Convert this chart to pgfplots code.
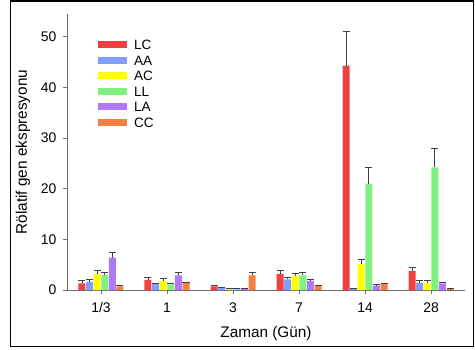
\documentclass[border=0pt]{standalone}
\usepackage{pgfplots}
\pgfplotsset{compat=1.18}
\usepackage{pgfplotstable}
\usepackage{fontspec}
\setmainfont{Liberation Sans}
\definecolor{cLC}{RGB}{240,64,64}
\definecolor{cAA}{RGB}{128,158,250}
\definecolor{cAC}{RGB}{255,255,0}
\definecolor{cLL}{RGB}{128,240,128}
\definecolor{cLA}{RGB}{178,120,245}
\definecolor{cCC}{RGB}{242,128,64}
\definecolor{axgray}{RGB}{110,110,110}
% x value err(plus)
\pgfplotstableread{
x y e
0 1.3 0.5
1 2.0 0.5
2 0.7 0.2
3 3.2 0.7
4 44.3 6.7
5 3.75 0.65
}\LC
\pgfplotstableread{
x y e
0 1.6 0.4
1 1.2 0.1
2 0.45 0.15
3 2.1 0.4
4 0.3 0.1
5 1.45 0.35
}\AA
\pgfplotstableread{
x y e
0 3.2 0.7
1 1.8 0.5
2 0.25 0.05
3 2.8 0.5
4 5.1 1.0
5 1.4 0.4
}\AC
\pgfplotstableread{
x y e
0 3.0 0.5
1 1.1 0.2
2 0.25 0.05
3 2.9 0.5
4 21.0 3.2
5 24.2 3.8
}\LL
\pgfplotstableread{
x y e
0 6.4 1.1
1 2.9 0.6
2 0.35 0.05
3 1.8 0.3
4 0.85 0.25
5 1.3 0.3
}\LA
\pgfplotstableread{
x y e
0 0.7 0.2
1 1.5 0.1
2 2.9 0.6
3 0.8 0.2
4 1.2 0.2
5 0.2 0.05
}\CC
\begin{document}
\begin{tikzpicture}[x=1bp,y=1bp]
\path[use as bounding box] (0,0) rectangle (475,349);
\draw[black, line width=1.5bp] (10.5,2.5) rectangle (473.5,348.2);
\begin{axis}[
  at={(67bp,59bp)}, anchor=south west,
  scale only axis, width=398bp, height=276bp,
  xmin=-0.515, xmax=5.515, ymin=0, ymax=54.5,
  axis lines*=left,
  axis line style={-, axgray, line width=0.9bp},
  tick style={axgray, line width=0.9bp},
  tick align=outside, major tick length=4bp,
  xtick={0,1,2,3,4,5},
  xticklabels={1/3,1,3,7,14,28},
  ytick={0,10,20,30,40,50},
  /pgf/number format/assume math mode=true,
  tick label style={font=\fontsize{14}{16}\selectfont},
  yticklabel style={xshift=-3bp},
  xticklabel style={yshift=-5bp},
  xlabel={Zaman (Gün)},
  ylabel={Rölatif gen ekspresyonu},
  label style={font=\fontsize{15.4}{17}\selectfont},
  xlabel style={at={(axis description cs:0.5,0)}, anchor=north, yshift=-33bp},
  ylabel style={at={(axis description cs:-0.1106,0.5)}, anchor=center},
  ybar, bar width=7bp,
  legend image code/.code={\fill[#1] (0bp,-3.5bp) rectangle (29bp,3.5bp); \path (36bp,0bp);},
  legend style={draw=none, fill=none, at={(0.07,0.915)}, anchor=north west,
    font=\fontsize{13.6}{15}\selectfont, row sep=5.5bp,
    nodes={inner sep=0pt, text height=10bp, text depth=0bp, anchor=west}},
  legend cell align=left,
  error bars/error bar style={black!75, line width=0.8bp},
  error bars/error mark options={rotate=90, mark size=3.5bp, black!75, line width=0.8bp},
]
\addplot[fill=cLC, draw=none, bar shift=-19bp, error bars/.cd, y dir=plus, y explicit] table[x=x, y=y, y error=e] {\LC};
\addplot[fill=cAA, draw=none, bar shift=-11.4bp, error bars/.cd, y dir=plus, y explicit] table[x=x, y=y, y error=e] {\AA};
\addplot[fill=cAC, draw=none, bar shift=-3.8bp, error bars/.cd, y dir=plus, y explicit] table[x=x, y=y, y error=e] {\AC};
\addplot[fill=cLL, draw=none, bar shift=3.8bp, error bars/.cd, y dir=plus, y explicit] table[x=x, y=y, y error=e] {\LL};
\addplot[fill=cLA, draw=none, bar shift=11.4bp, error bars/.cd, y dir=plus, y explicit] table[x=x, y=y, y error=e] {\LA};
\addplot[fill=cCC, draw=none, bar shift=19bp, error bars/.cd, y dir=plus, y explicit] table[x=x, y=y, y error=e] {\CC};
\legend{LC,AA,AC,LL,LA,CC}
\end{axis}
\end{tikzpicture}
\end{document}
